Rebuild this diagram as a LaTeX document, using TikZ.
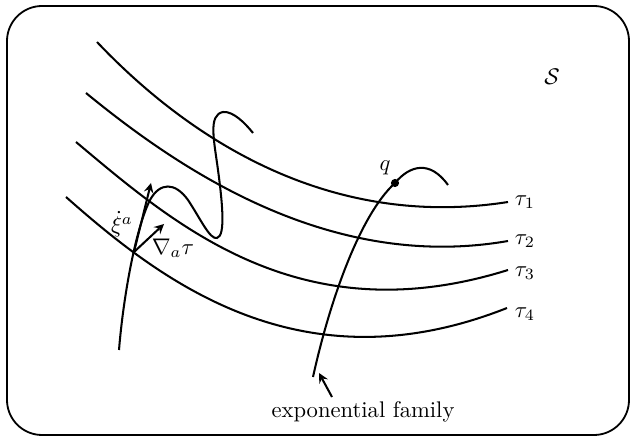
\documentclass[tikz,border=0pt]{standalone}
\usepackage{amsmath}
\usetikzlibrary{arrows}

\begin{document}
\begin{tikzpicture}[x=0.442pt, y=-0.442pt,
    level/.style={line width=0.9pt},
    track/.style={line width=0.9pt},
    vec/.style={->, >=stealth, line width=0.9pt},
    label/.style={font=\normalsize, inner sep=1pt},
]
\useasboundingbox (0,0) rectangle (631,439);

%% --- frame of the manifold ---
\draw[line width=0.8pt, rounded corners=15.5pt] (7,6) rectangle (629,435);
\node[label] (S) at (552,77) {$\mathcal{S}$};

%% --- level sets of tau ---
\draw[level] (97,42) .. controls (190,140) and (330,230) .. (508,202);
\draw[level] (86,93) .. controls (180,170) and (330,272) .. (508,241);
\draw[level] (76,142) .. controls (175,225) and (300,335) .. (508,270);
\draw[level] (66,197) .. controls (160,280) and (300,390) .. (507,308);

\node[label] (t1) at (525,202) {$\tau_1$};
\node[label] (t2) at (525,241) {$\tau_2$};
\node[label] (t3) at (525,273) {$\tau_3$};
\node[label] (t4) at (525,314) {$\tau_4$};

%% --- wiggly curve xi ---
\draw[track] (119,350) .. controls (123,300) and (135,230) .. (150,200)
    .. controls (160,182) and (175,182) .. (188,200)
    .. controls (200,218) and (210,240) .. (217,238)
    .. controls (226,236) and (222,200) .. (218,170)
    .. controls (214,140) and (208,115) .. (223,112)
    .. controls (233,111) and (245,123) .. (253,133);

\coordinate (p) at (134,252);
\coordinate (xitip) at (151,183);
\coordinate (gradtip) at (164,224);
\draw[vec] (p) -- (xitip);
\draw[vec] (p) -- (gradtip);
\node[label] (xi) at (122,224) {$\dot{\xi}^a$};
\node[label] (grad) at (173,248) {$\nabla_a\tau$};

%% --- exponential family ---
\draw[track] (313,377) .. controls (330,300) and (360,215) .. (395,183)
    .. controls (410,165) and (430,160) .. (448,185);
\node[circle, fill=black, minimum size=3.6pt, inner sep=0] (q) at (395,183) {};
\node[label] (qlab) at (385,168) {$q$};

\node[label] (expfam) at (363,412) {exponential family};
\coordinate (famtip) at (319,373);
\coordinate (famtail) at (332,397);
\draw[vec] (famtail) -- (famtip);

\end{tikzpicture}
\end{document}
